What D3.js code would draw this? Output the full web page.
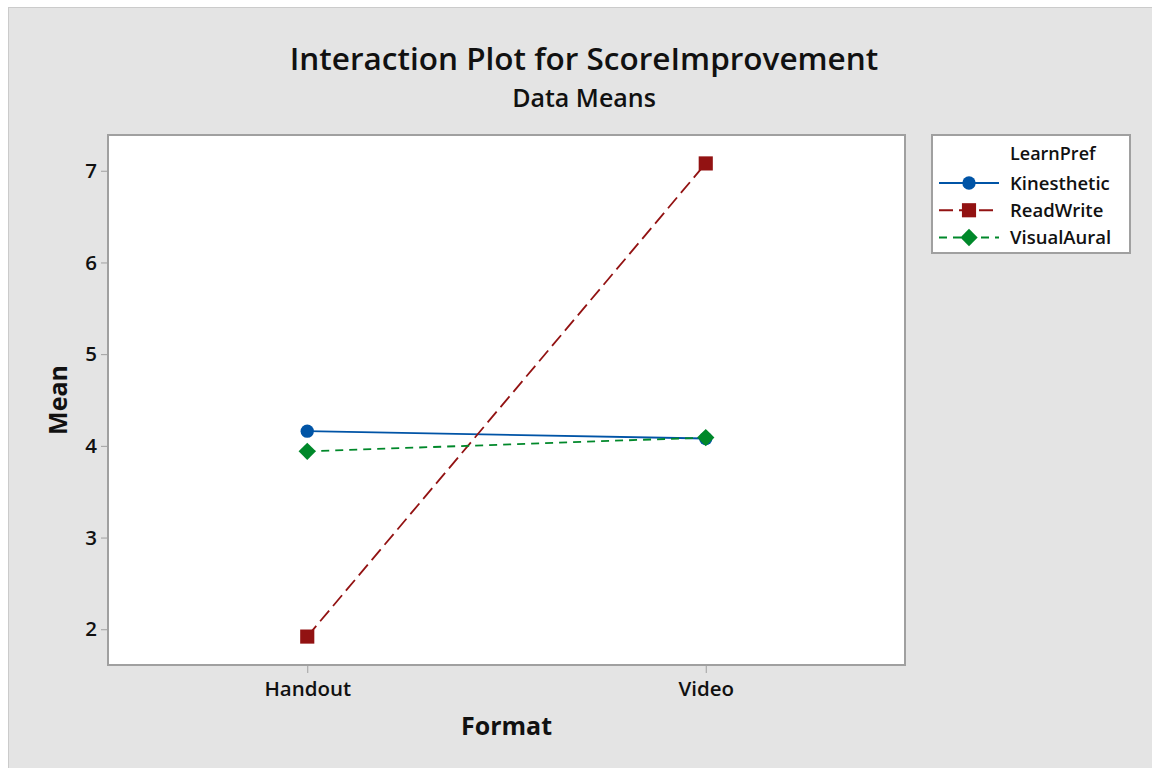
<!DOCTYPE html>
<html>
<head>
<meta charset="utf-8">
<script src="https://cdn.jsdelivr.net/npm/d3@7"></script>
<style>
  html, body { margin:0; padding:0; background:#fff; }
  svg { display:block; font-family:"Open Sans", "Noto Sans", sans-serif; }
</style>
</head>
<body>
<div id="chart"></div>
<script>
// Interaction plot — ScoreImprovement means by Format x LearnPref

const formats = ["Handout", "Video"];
const groups = ["Kinesthetic", "ReadWrite", "VisualAural"];
const kinesthetic = [4.16, 4.08];
const readWrite = [1.92, 7.08];
const visualAural = [3.94, 4.09];
const yTicks = [2, 3, 4, 5, 6, 7];

const series = [
  {name: groups[0], values: kinesthetic, color: "#0054a6", dash: null,   shape: "circle"},
  {name: groups[1], values: readWrite,   color: "#921212", dash: "14,6", shape: "square"},
  {name: groups[2], values: visualAural, color: "#00882a", dash: "8,6",  shape: "diamond"}
];

const width = 1152, height = 768;
const plot = {left:108, top:135, right:905, bottom:665};

const svg = d3.select("#chart").append("svg")
  .attr("width", width).attr("height", height);

// panel background
svg.append("rect")
  .attr("x", 8.5).attr("y", 7.5)
  .attr("width", width - 8).attr("height", height - 7)
  .attr("fill", "#e4e4e4").attr("stroke", "#cbcbcb");

const x = d3.scalePoint().domain(formats).range([plot.left, plot.right]).padding(0.5);
const y = d3.scaleLinear().domain([1.61, 7.39]).range([plot.bottom, plot.top]);

// plot area
svg.append("rect")
  .attr("x", plot.left).attr("y", plot.top)
  .attr("width", plot.right - plot.left).attr("height", plot.bottom - plot.top)
  .attr("fill", "#fff").attr("stroke", "#a0a0a0").attr("stroke-width", 2);

// axes
const yAxis = svg.append("g")
  .attr("transform", `translate(${plot.left - 1},0)`)
  .call(d3.axisLeft(y).tickValues(yTicks).tickSize(6).tickPadding(4).tickFormat(d3.format("d")));
const xAxis = svg.append("g")
  .attr("transform", `translate(0,${plot.bottom + 1})`)
  .call(d3.axisBottom(x).tickSize(7).tickPadding(8));

[xAxis, yAxis].forEach(a => {
  a.select(".domain").remove();
  a.selectAll(".tick line").attr("stroke", "#a0a0a0");
  a.selectAll(".tick text")
    .attr("fill", "#111")
    .style("font-size", "20.5px")
    .style("font-weight", 600)
    .style("font-family", "'Open Sans', sans-serif");
});

// lines
const line = d3.line().x((d, i) => x(formats[i])).y(d => y(d));

const symbols = {
  circle: {gen: d3.symbol().type(d3.symbolCircle).size(140), rot: 0},
  square: {gen: d3.symbol().type(d3.symbolSquare).size(200), rot: 0},
  diamond: {gen: d3.symbol().type(d3.symbolSquare).size(150), rot: 45}
};

series.forEach(s => {
  svg.append("path")
    .datum(s.values)
    .attr("d", line)
    .attr("fill", "none")
    .attr("stroke", s.color)
    .attr("stroke-width", 1.8)
    .attr("stroke-dasharray", s.dash);
});
series.forEach(s => {
  const sym = symbols[s.shape];
  svg.selectAll(null).data(s.values).join("path")
    .attr("d", sym.gen())
    .attr("transform", (d, i) => `translate(${x(formats[i])},${y(d)}) rotate(${sym.rot})`)
    .attr("fill", s.color);
});

// titles
svg.append("text")
  .attr("x", 584).attr("y", 70)
  .attr("text-anchor", "middle")
  .style("font-size", "31.5px").style("font-weight", 600)
  .attr("fill", "#111")
  .text("Interaction Plot for ScoreImprovement");
svg.append("text")
  .attr("x", 584).attr("y", 107)
  .attr("text-anchor", "middle")
  .style("font-size", "25px").style("font-weight", 600)
  .attr("fill", "#111")
  .text("Data Means");

svg.append("text")
  .attr("x", (plot.left + plot.right) / 2).attr("y", 735)
  .attr("text-anchor", "middle")
  .style("font-size", "25px").style("font-weight", 700)
  .attr("fill", "#111")
  .text("Format");
svg.append("text")
  .attr("transform", `translate(67,${(plot.top + plot.bottom) / 2}) rotate(-90)`)
  .attr("text-anchor", "middle")
  .style("font-size", "25px").style("font-weight", 700)
  .attr("fill", "#111")
  .text("Mean");

// legend
const lg = svg.append("g");
lg.append("rect")
  .attr("x", 932).attr("y", 135)
  .attr("width", 198).attr("height", 118)
  .attr("fill", "#fff").attr("stroke", "#a0a0a0").attr("stroke-width", 2);
lg.append("text")
  .attr("x", 1010).attr("y", 160)
  .style("font-size", "18px").style("font-weight", 600)
  .attr("fill", "#111")
  .text("LearnPref");

const ly = d3.scalePoint().domain(groups).range([183, 237.5]);
series.forEach(s => {
  const cy = ly(s.name);
  const sym = symbols[s.shape];
  lg.append("line")
    .attr("x1", 939).attr("x2", 999).attr("y1", cy).attr("y2", cy)
    .attr("stroke", s.color).attr("stroke-width", 1.8)
    .attr("stroke-dasharray", s.dash);
  lg.append("path")
    .attr("d", sym.gen())
    .attr("transform", `translate(969,${cy}) rotate(${sym.rot})`)
    .attr("fill", s.color);
  lg.append("text")
    .attr("x", 1010).attr("y", cy + 6.5)
    .style("font-size", "18.5px").style("font-weight", 600)
    .attr("fill", "#111")
    .text(s.name);
});
</script>
</body>
</html>
